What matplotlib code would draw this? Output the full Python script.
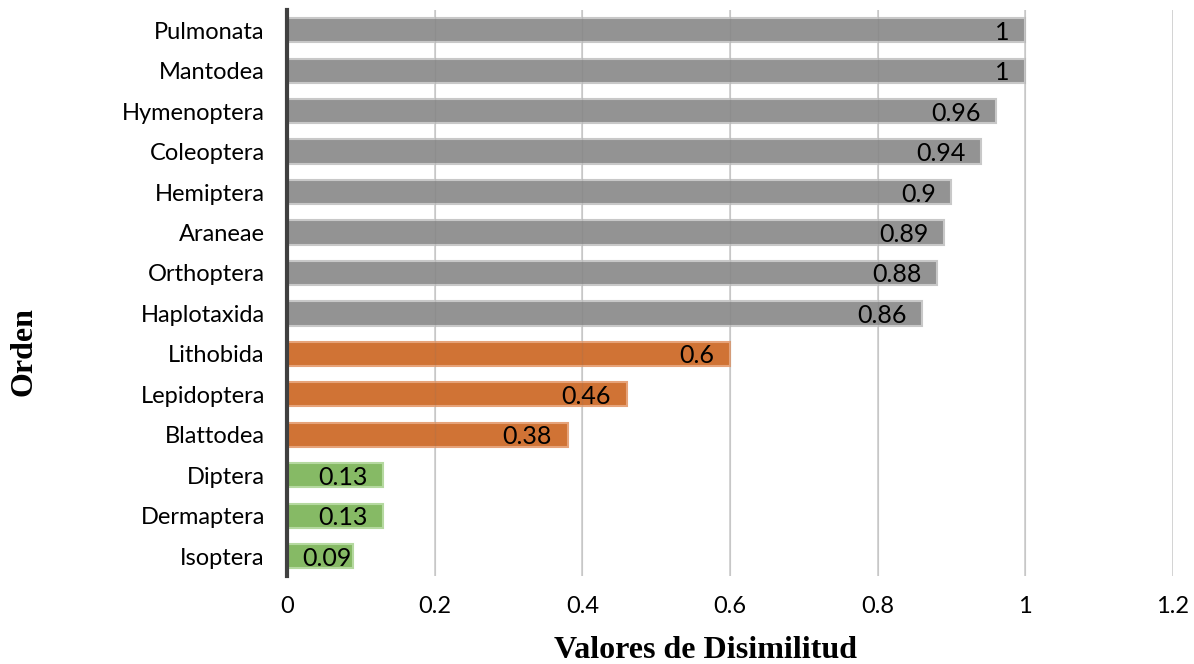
import numpy as np
import matplotlib.pyplot as plt

ordenes = ['Pulmonata', 'Mantodea', 'Hymenoptera', 'Coleoptera', 'Hemiptera',
           'Araneae', 'Orthoptera', 'Haplotaxida', 'Lithobida', 'Lepidoptera',
           'Blattodea', 'Diptera', 'Dermaptera', 'Isoptera']
valores = [1, 1, 0.96, 0.94, 0.9, 0.89, 0.88, 0.86, 0.6, 0.46, 0.38, 0.13, 0.13, 0.09]
etiquetas = ['1', '1', '0.96', '0.94', '0.9', '0.89', '0.88', '0.86', '0.6', '0.46',
             '0.38', '0.13', '0.13', '0.09']
grupo = [0] * 8 + [1] * 3 + [2] * 3

colores = ['#939393', '#D07335', '#86BA65']
bordes = ['#C8C8C8', '#E6A37A', '#B5D9A0']

fig = plt.figure(figsize=(11.94, 6.64), dpi=100)
ax = fig.add_axes([0.2404, 0.132, 0.742, 0.853])

y = np.arange(len(ordenes))
fc = [colores[g] for g in grupo]
ec = [bordes[g] for g in grupo]
ax.barh(y, valores, height=0.6, color=fc, edgecolor=ec, linewidth=1.5, zorder=2)

# líneas de rejilla: debajo de las barras y, muy tenues, encima
for xv in np.arange(0.2, 1.21, 0.2):
    ax.axvline(xv, color='#D0D0D0', linewidth=1.2, zorder=1)
    ax.axvline(xv, color='#707070', linewidth=1.0, alpha=0.15, zorder=3)

ax.set_xlim(0, 1.2)
ax.set_ylim(len(ordenes) - 0.5, -0.5)

# etiquetas dentro del extremo; si no caben, se pegan al inicio de la barra
margen = 0.021
textos = []
for yi, v, t in zip(y, valores, etiquetas):
    txt = ax.text(v - margen, yi + 0.05, t, ha='right', va='center', fontsize=18,
                  family='Lato', color='black', zorder=4)
    textos.append(txt)
fig.canvas.draw()
r = fig.canvas.get_renderer()
inv = ax.transData.inverted()
for txt in textos:
    bb = txt.get_window_extent(r)
    x0 = inv.transform((bb.x0, bb.y0))[0]
    if x0 < margen:
        txt.set_ha('left')
        txt.set_x(margen)

ax.set_xticks(np.arange(0, 1.21, 0.2))
ax.set_xticklabels(['0', '0.2', '0.4', '0.6', '0.8', '1', '1.2'])
ax.set_yticks(y)
ax.set_yticklabels(ordenes)
ax.tick_params(length=0, labelsize=17)
ax.tick_params(axis='y', pad=16)
ax.tick_params(axis='x', pad=14)
for lab in ax.get_xticklabels() + ax.get_yticklabels():
    lab.set_family('Lato')

for s in ['top', 'right', 'bottom']:
    ax.spines[s].set_visible(False)
ax.spines['left'].set_color('#404040')
ax.spines['left'].set_linewidth(3)
ax.spines['left'].set_zorder(5)

fig.text(0.591, 0.021, 'Valores de Disimilitud', family='Liberation Serif',
         fontweight='bold', fontsize=23, ha='center', va='center')
fig.text(0.02, 0.47, 'Orden', family='Liberation Serif', fontweight='bold',
         fontsize=23, rotation=90, ha='center', va='center')

fig.savefig('out.png', dpi=100)
